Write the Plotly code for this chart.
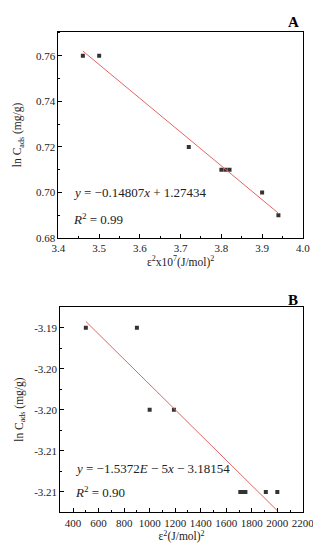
import plotly.graph_objects as go

# Panel A data
a_x = [3.46, 3.50, 3.72, 3.80, 3.81, 3.82, 3.90, 3.94]
a_y = [0.76, 0.76, 0.72, 0.71, 0.71, 0.71, 0.70, 0.69]
a_slope, a_intercept = -0.14807, 1.27434
a_fit_x = [3.46, 3.94]

# Panel B data
b_x = [500, 900, 1000, 1190, 1710, 1730, 1750, 1910, 2000]
b_y = [-3.19, -3.19, -3.20, -3.20, -3.21, -3.21, -3.21, -3.21, -3.21]
b_slope, b_intercept = -1.5372e-5, -3.18154
b_fit_x = [500, 2000]

a_yticks = [0.68, 0.70, 0.72, 0.74, 0.76]
a_yticktext = ["0.68", "0.70", "0.72", "0.74", "0.76"]
a_xticks = [3.4, 3.5, 3.6, 3.7, 3.8, 3.9, 4.0]
a_xticktext = ["3.4", "3.5", "3.6", "3.7", "3.8", "3.9", "4.0"]
b_yticks = [-3.19, -3.195, -3.20, -3.205, -3.21]
b_yticktext = ["-3.19", "-3.20", "-3.20", "-3.21", "-3.21"]
b_xticks = [400, 600, 800, 1000, 1200, 1400, 1600, 1800, 2000, 2200]

FONT = "Liberation Serif"
MK = dict(symbol="square", size=4, color="#333333")
LINE = dict(color="#e06666", width=1)
TFONT = dict(family=FONT, size=11.5, color="#222")

fig = go.Figure()
fig.add_trace(go.Scatter(x=a_x, y=a_y, mode="markers", marker=MK, xaxis="x", yaxis="y", showlegend=False))
fig.add_trace(go.Scatter(x=a_fit_x, y=[a_slope * v + a_intercept for v in a_fit_x], mode="lines",
                         line=LINE, xaxis="x", yaxis="y", showlegend=False))
fig.add_trace(go.Scatter(x=b_x, y=b_y, mode="markers", marker=MK, xaxis="x2", yaxis="y2", showlegend=False))
fig.add_trace(go.Scatter(x=b_fit_x, y=[b_slope * v + b_intercept for v in b_fit_x], mode="lines",
                         line=LINE, xaxis="x2", yaxis="y2", showlegend=False))

common = dict(showline=True, linecolor="black", linewidth=1, mirror=True, ticks="inside",
              ticklen=4, tickcolor="black", showgrid=False, zeroline=False,
              tickfont=dict(family=FONT, size=11, color="#222"))


def minor(dt, t0):
    return dict(ticks="inside", ticklen=2, tickcolor="black", dtick=dt, tick0=t0)


fig.update_layout(
    width=321, height=550, margin=dict(l=0, r=0, t=0, b=0),
    paper_bgcolor="white", plot_bgcolor="white",
    xaxis=dict(domain=[0.1433, 0.950], range=[3.4, 4.0], tickvals=a_xticks, ticktext=a_xticktext,
               minor=minor(0.05, 3.4),
               title=dict(text="ε<sup>2</sup>x10<sup>7</sup>(J/mol)<sup>2</sup>", font=TFONT, standoff=0),
               anchor="y", **common),
    yaxis=dict(domain=[0.5769, 0.9564], range=[0.68, 0.7705], tickvals=a_yticks, ticktext=a_yticktext,
               minor=minor(0.01, 0.68),
               title=dict(text="ln C<sub>ads</sub> (mg/g)", font=TFONT, standoff=11),
               anchor="x", **common),
    xaxis2=dict(domain=[0.1495, 0.950], range=[300, 2200], tickvals=b_xticks,
                minor=minor(100, 300),
                title=dict(text="ε<sup>2</sup>(J/mol)<sup>2</sup>", font=TFONT, standoff=0),
                anchor="y2", **common),
    yaxis2=dict(domain=[0.0727, 0.4509], range=[-3.2125, -3.18743], tickvals=b_yticks, ticktext=b_yticktext,
                minor=minor(0.0025, -3.21),
                title=dict(text="ln C<sub>ads</sub> (mg/g)", font=TFONT, standoff=8),
                anchor="x2", **common),
)

eqfont = dict(family=FONT, size=13, color="#222")
ann = [
    dict(text="<i>y</i> = −0.14807<i>x</i> + 1.27434", x=59 / 321, y=1 - 187 / 550, xanchor="left", yanchor="middle", font=eqfont),
    dict(text="<i>R</i><sup>2</sup> = 0.99", x=59 / 321, y=1 - 213 / 550, xanchor="left", yanchor="middle", font=eqfont),
    dict(text="<i>y</i> = −1.5372<i>E</i> − 5<i>x</i> − 3.18154", x=61.5 / 321, y=1 - 466 / 550, xanchor="left", yanchor="middle", font=eqfont),
    dict(text="<i>R</i><sup>2</sup> = 0.90", x=61.5 / 321, y=1 - 489 / 550, xanchor="left", yanchor="middle", font=eqfont),
    dict(text="<b>A</b>", x=295 / 321, y=1 - 14 / 550, xanchor="center", yanchor="middle", font=dict(family=FONT, size=15, color="black")),
    dict(text="<b>B</b>", x=295 / 321, y=1 - 295 / 550, xanchor="center", yanchor="middle", font=dict(family=FONT, size=15, color="black")),
]
for a in ann:
    fig.add_annotation(xref="paper", yref="paper", showarrow=False, **a)

fig.write_html("out.html")
